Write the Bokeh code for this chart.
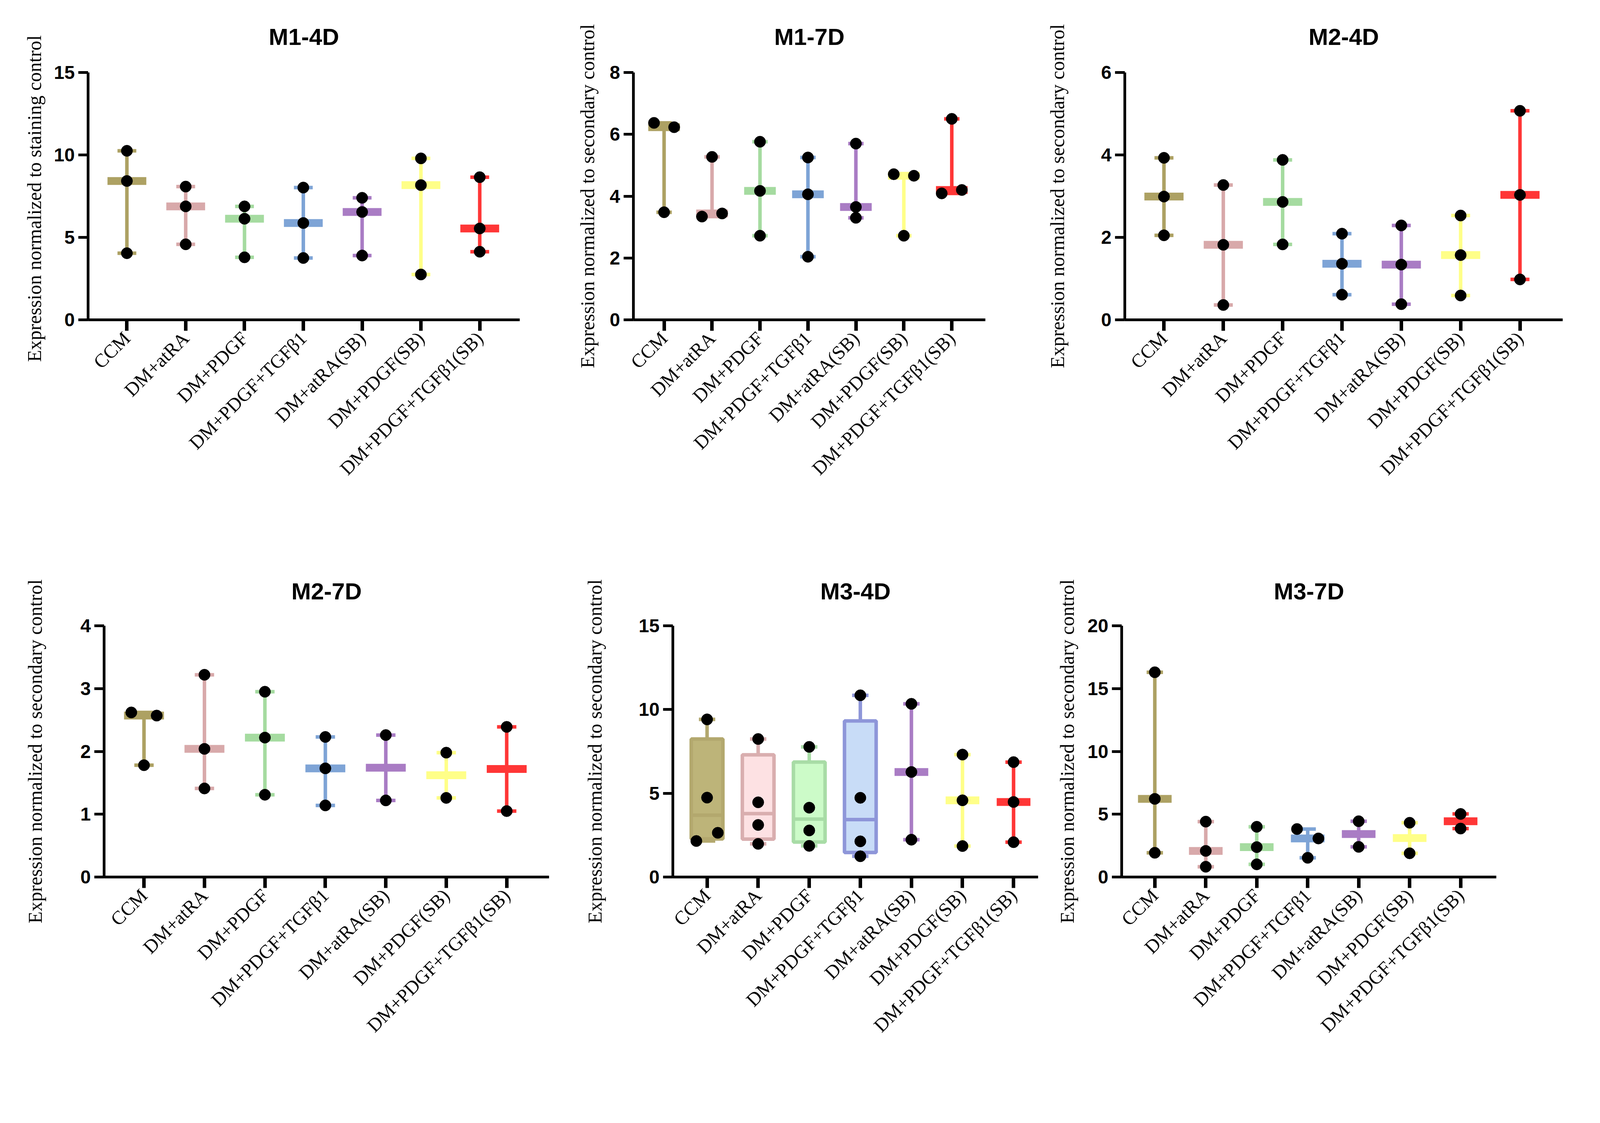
import math
import numpy as np
from bokeh.plotting import figure
from bokeh.layouts import row, column
from bokeh.models import Range1d, FixedTicker
from bokeh.embed import file_html
from bokeh.resources import INLINE

categories = ["CCM", "DM+atRA", "DM+PDGF", "DM+PDGF+TGFβ1",
              "DM+atRA(SB)", "DM+PDGF(SB)", "DM+PDGF+TGFβ1(SB)"]

line_colors = ["#ADA163", "#D8A9AA", "#A5DBA0", "#7EA4D6", "#A97CC4", "#FFFF88", "#FF3636"]
box_fill_colors = ["#BDB479", "#FDE1E3", "#CCFBC8", "#C8DCF7", "#E2CDEE", "#FFFFC8", "#FFC8C8"]
box_line_colors = ["#B3A86E", "#D9AEAF", "#A8DCA6", "#8E96D9", "#A97CC4", "#FFFF88", "#FF3636"]

# ---- values (one list per category) ----
m1_4d = [[10.25, 8.42, 4.04], [8.08, 6.88, 4.58], [6.88, 6.13, 3.79], [8.02, 5.87, 3.75],
         [7.40, 6.54, 3.90], [9.79, 8.17, 2.75], [8.65, 5.54, 4.13]]
m1_7d = [[6.37, 6.23, 3.48], [5.27, 3.34, 3.44], [5.76, 4.17, 2.72], [5.25, 4.06, 2.04],
         [5.70, 3.65, 3.30], [4.71, 4.66, 2.72], [6.50, 4.09, 4.20]]
m2_4d = [[3.93, 2.99, 2.05], [3.27, 1.82, 0.36], [3.88, 2.86, 1.83], [2.09, 1.36, 0.61],
         [2.29, 1.34, 0.38], [2.53, 1.57, 0.59], [5.07, 3.03, 0.98]]
m2_7d = [[2.62, 2.57, 1.78], [3.22, 2.04, 1.41], [2.95, 2.22, 1.31], [2.23, 1.73, 1.14],
         [2.26, 1.22], [1.98, 1.26], [2.39, 1.05]]
m3_4d = [[2.15, 2.64, 4.74, 9.41], [8.24, 4.46, 3.11, 1.98], [7.77, 4.14, 2.78, 1.86],
         [10.85, 4.73, 2.13, 1.24], [10.34, 6.27, 2.23], [7.31, 4.58, 1.85], [6.86, 4.48, 2.08]]
m3_7d = [[16.3, 6.22, 1.93], [4.41, 2.08, 0.82], [4.00, 2.38, 1.01], [3.82, 3.07, 1.53],
         [4.44, 2.40], [4.32, 1.89], [5.02, 3.86]]

m1_4d_ticks = [0, 5, 10, 15]
m1_7d_ticks = [0, 2, 4, 6, 8]
m2_4d_ticks = [0, 2, 4, 6]
m2_7d_ticks = [0, 1, 2, 3, 4]
m3_4d_ticks = [0, 5, 10, 15]
m3_7d_ticks = [0, 5, 10, 15, 20]

label_staining = "Expression normalized to staining  control"
label_secondary = "Expression normalized to secondary control"

SERIF = "Liberation Serif"
SANS = "Liberation Sans"

G = 0.948  # page-to-picture scale correction


def px(v):
    return int(round(v * G))


def make_panel(title, groups, yticks, ylabel, width, height, bl, br, bt, bb,
               xlo, xhi, lab_standoff, title_standoff):
    width, height, bl, br, bt, bb = px(width), px(height), px(bl), px(br), px(bt), px(bb)
    frame_h = height - bt - bb
    ymax = yticks[-1]
    ppu = frame_h / ymax
    p = figure(width=width, height=height, x_range=Range1d(xlo, xhi),
               y_range=Range1d(0, ymax), output_backend="svg",
               toolbar_location=None, tools="",
               min_border_left=bl, min_border_right=br,
               min_border_top=bt, min_border_bottom=bb)
    p.outline_line_color = None
    p.grid.visible = False
    p.background_fill_color = "white"
    p.border_fill_color = "white"

    p.title.text = title
    p.title.align = "center"
    p.title.text_font = SANS
    p.title.text_font_style = "bold"
    p.title.text_font_size = "60px"
    p.title.text_color = "black"
    p.title.standoff = px(title_standoff)

    # y axis
    ya = p.yaxis[0]
    ya.ticker = FixedTicker(ticks=yticks)
    ya.axis_line_width = px(7)
    ya.axis_line_color = "black"
    ya.major_tick_line_width = px(7)
    ya.major_tick_line_color = "black"
    ya.major_tick_out = px(26)
    ya.major_tick_in = 0
    ya.minor_tick_line_color = None
    ya.major_label_text_font = SANS
    ya.major_label_text_font_style = "bold"
    ya.major_label_text_font_size = "48px"
    ya.major_label_text_color = "black"
    ya.major_label_standoff = px(10)
    ya.axis_label = ylabel
    ya.axis_label_text_font = SERIF
    ya.axis_label_text_font_style = "normal"
    ya.axis_label_text_font_size = "50px"
    ya.axis_label_text_color = "black"
    ya.axis_label_standoff = px(lab_standoff)

    # x axis
    xa = p.xaxis[0]
    xa.ticker = FixedTicker(ticks=list(range(len(categories))))
    xa.major_label_overrides = {i: c for i, c in enumerate(categories)}
    xa.axis_line_width = px(7)
    xa.axis_line_color = "black"
    xa.major_tick_line_width = px(9)
    xa.major_tick_line_color = "black"
    xa.major_tick_out = px(30)
    xa.major_tick_in = 0
    xa.minor_tick_line_color = None
    xa.major_label_orientation = math.pi / 4
    xa.major_label_text_font = SERIF
    xa.major_label_text_font_size = "49px"
    xa.major_label_text_color = "black"
    xa.major_label_standoff = px(12)

    dot_x, dot_y = [], []
    for i, vals in enumerate(groups):
        v = np.array(vals, dtype=float)
        vmin, vmax, med = v.min(), v.max(), float(np.median(v))
        col = line_colors[i]
        if len(v) >= 4:
            q1, q3 = np.percentile(v, [25, 75], method="weibull")
            lc = box_line_colors[i]
            p.segment(x0=[i, i], y0=[q3, vmin], x1=[i, i], y1=[vmax, q1],
                      line_color=lc, line_width=px(10))
            p.segment(x0=[i - 0.16, i - 0.16], y0=[vmax, vmin], x1=[i + 0.16, i + 0.16],
                      y1=[vmax, vmin], line_color=lc, line_width=px(9))
            p.rect(x=[i], y=[(q1 + q3) / 2], width=0.62, height=[q3 - q1],
                   fill_color=box_fill_colors[i], line_color=lc, line_width=px(9))
            p.segment(x0=[i - 0.31], y0=[med], x1=[i + 0.31], y1=[med],
                      line_color=lc, line_width=px(9))
        else:
            p.segment(x0=[i], y0=[vmin], x1=[i], y1=[vmax], line_color=col, line_width=px(10))
            p.segment(x0=[i - 0.16, i - 0.16], y0=[vmax, vmin], x1=[i + 0.16, i + 0.16],
                      y1=[vmax, vmin], line_color=col, line_width=px(9))
            p.rect(x=[i], y=[med], width=0.66, height=px(21), height_units="screen",
                   fill_color=col, line_color=None)
        # spread points that would overlap (as Prism does)
        for k, val in enumerate(vals):
            off = 0.0
            for j, other in enumerate(vals):
                if j != k and abs(val - other) * ppu < px(27):
                    off = -0.21 if k < j else 0.21
                    break
            dot_x.append(i + off)
            dot_y.append(val)
    p.scatter(x=dot_x, y=dot_y, size=px(31), fill_color="black", line_color="black")
    return p


TOP_H = 1442
BOT_H = 1416

p1 = make_panel("M1-4D", m1_4d, m1_4d_ticks, label_staining, 1442, TOP_H, 237, 39, 188, 579,
                -0.66, 6.68, 20, 122)
p2 = make_panel("M1-7D", m1_7d, m1_7d_ticks, label_secondary, 1380, TOP_H, 268, 161, 188, 579,
                -0.64, 6.70, 27, 122)
p3 = make_panel("M2-4D", m2_4d, m2_4d_ticks, label_secondary, 1460, TOP_H, 210, 62, 188, 579,
                -0.66, 6.72, 85, 122)

p4 = make_panel("M2-7D", m2_7d, m2_7d_ticks, label_secondary, 1552, BOT_H, 281, 70, 247, 491,
                -0.66, 6.70, 90, 116)
p5 = make_panel("M3-4D", m3_4d, m3_4d_ticks, label_secondary, 1290, BOT_H, 265, 39, 247, 491,
                -0.67, 6.48, 85, 116)
p6 = make_panel("M3-7D", m3_7d, m3_7d_ticks, label_secondary, 1440, BOT_H, 187, 242, 247, 491,
                -0.65, 6.70, 22, 116)

layout = column(row(p1, p2, p3), row(p4, p5, p6))
open("out.html", "w").write(file_html(layout, INLINE))
